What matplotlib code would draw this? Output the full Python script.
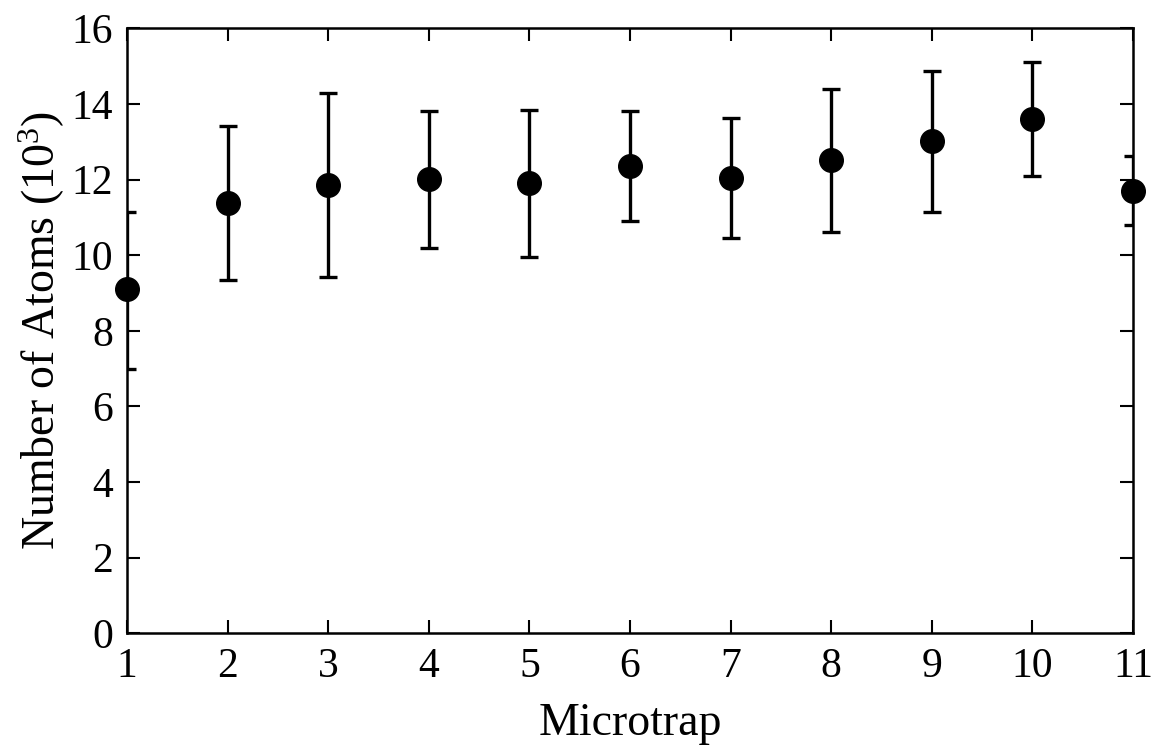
import matplotlib
matplotlib.use("Agg")
import matplotlib.pyplot as plt
import numpy as np

plt.rcParams['font.family'] = ['Liberation Serif', 'DejaVu Serif']
plt.rcParams['mathtext.fontset'] = 'custom'
plt.rcParams['mathtext.rm'] = 'Liberation Serif'
plt.rcParams['mathtext.it'] = 'Liberation Serif:italic'

microtrap = [1, 2, 3, 4, 5, 6, 7, 8, 9, 10, 11]
atoms = [9.10, 11.39, 11.86, 12.01, 11.90, 12.36, 12.05, 12.52, 13.03, 13.59, 11.71]
err_low = [7.00, 9.34, 9.43, 10.18, 9.94, 10.90, 10.45, 10.62, 11.15, 12.09, 10.80]
err_high = [11.14, 13.42, 14.28, 13.82, 13.84, 13.82, 13.62, 14.40, 14.87, 15.11, 12.62]

x = np.array(microtrap)
y = np.array(atoms)
lo = y - np.array(err_low)
hi = np.array(err_high) - y

fig = plt.figure(figsize=(11.51, 7.48), dpi=100)
ax = fig.add_axes([0.1103, 0.1533, 0.8741, 0.8089])

ax.errorbar(x, y, yerr=[lo, hi], fmt='none', ecolor='black', elinewidth=2.4,
            capsize=6.5, capthick=2.4)
ax.plot(x, y, 'o', color='black', markersize=17, clip_on=False, zorder=5)

ax.set_xlim(1, 11)
ax.set_ylim(0, 16)
ax.set_xticks(range(1, 12))
ax.set_yticks(range(0, 17, 2))
ax.tick_params(direction='in', length=9.5, width=1.5, top=True, right=True,
               labelsize=30)
ax.tick_params(axis='x', pad=10)
ax.tick_params(axis='y', pad=10)
for s in ax.spines.values():
    s.set_linewidth(1.8)

ax.set_xlabel('Microtrap', fontsize=33, labelpad=12)
ax.set_ylabel('Number of Atoms (10$^3$)', fontsize=33, labelpad=3)

fig.savefig('out.png', dpi=100)
